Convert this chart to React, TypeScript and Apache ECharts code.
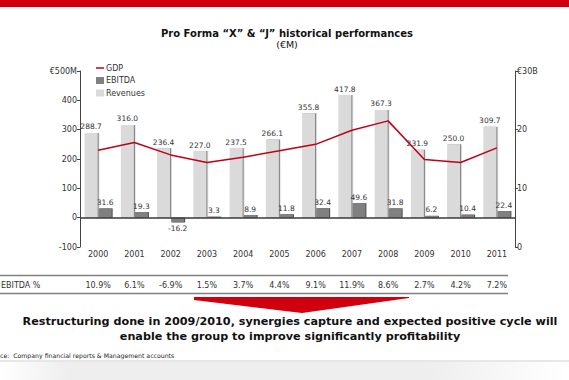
import React, { useEffect, useRef } from "react";
import * as echarts from "echarts";

const years = ["2000", "2001", "2002", "2003", "2004", "2005", "2006", "2007", "2008", "2009", "2010", "2011"];
const revenues = [288.7, 316.0, 236.4, 227.0, 237.5, 266.1, 355.8, 417.8, 367.3, 231.9, 250.0, 309.7];
const ebitda = [31.6, 19.3, -16.2, 3.3, 8.9, 11.8, 32.4, 49.6, 31.8, 6.2, 10.4, 22.4];
const gdp = [16.5, 17.8, 15.7, 14.4, 15.3, 16.4, 17.5, 19.9, 21.5, 14.9, 14.4, 16.9];
const ebitdaPct = ["10.9%", "6.1%", "-6.9%", "1.5%", "3.7%", "4.4%", "9.1%", "11.9%", "8.6%", "2.7%", "4.2%", "7.2%"];
const leftTopLabel = "€500M";
const rightTopLabel = "€30B";

const FONT = "DejaVu Sans";
const RED = "#d0000f";

export default function App() {
  const ref = useRef<HTMLDivElement>(null);
  useEffect(() => {
    if (!ref.current) return;
    const chart = echarts.init(ref.current, null, { renderer: "svg" });
    const labelStyle = { fontSize: 7.5, color: "#333", fontFamily: FONT };
    const centered = { align: "center", verticalAlign: "middle", textAlign: "center", textVerticalAlign: "middle" };
    chart.setOption({
      animation: false,
      backgroundColor: "#fff",
      textStyle: { fontFamily: FONT },
      legend: {
        orient: "vertical",
        left: 91,
        top: 59,
        itemWidth: 8,
        itemHeight: 7,
        itemGap: 4.5,
        data: [
          { name: "GDP", icon: "path://M0,0 L16,0 L16,3 L0,3 Z" },
          { name: "EBITDA", icon: "rect" },
          { name: "Revenues", icon: "rect" },
        ],
        textStyle: { fontSize: 8, color: "#333", fontFamily: FONT, padding: [0, 0, 0, -3] },
      },
      grid: [
        { left: 80, right: 54, top: 71, bottom: 133 },
        { left: 80, right: 54, top: 278, height: 1 },
      ],
      xAxis: [
        {
          type: "category",
          data: years,
          gridIndex: 0,
          axisLine: { show: false },
          axisTick: { show: false },
          axisLabel: { fontSize: 8, color: "#333", fontFamily: FONT, margin: 3 },
        },
        {
          type: "category",
          data: ebitdaPct,
          gridIndex: 1,
          axisLine: { show: false },
          axisTick: { show: false },
          axisLabel: { fontSize: 8, color: "#333", fontFamily: FONT, margin: 2 },
        },
      ],
      yAxis: [
        {
          type: "value",
          gridIndex: 0,
          min: -100,
          max: 500,
          interval: 100,
          axisLine: { show: true, lineStyle: { color: "#444", width: 1 } },
          axisTick: { show: true, length: 3, lineStyle: { color: "#444" } },
          splitLine: { show: false },
          axisLabel: {
            fontSize: 8,
            color: "#333",
            fontFamily: FONT,
            margin: 3,
            formatter: (v: number) => (v === 500 ? leftTopLabel : String(v)),
          },
        },
        {
          type: "value",
          gridIndex: 0,
          position: "right",
          min: 0,
          max: 30,
          interval: 10,
          axisLine: { show: true, lineStyle: { color: "#444", width: 1 } },
          axisTick: { show: true, length: 3, lineStyle: { color: "#444" } },
          splitLine: { show: false },
          axisLabel: {
            fontSize: 8,
            color: "#333",
            fontFamily: FONT,
            margin: 2,
            formatter: (v: number) => (v === 30 ? rightTopLabel : String(v)),
          },
        },
        { type: "value", gridIndex: 1, show: false },
      ],
      series: [
        {
          name: "Revenues",
          type: "bar",
          xAxisIndex: 0,
          yAxisIndex: 0,
          data: revenues,
          barWidth: 13,
          barGap: "8%",
          itemStyle: { color: "#dadada", shadowColor: "#7a7a7a", shadowOffsetX: 1.2, shadowBlur: 0 },
          label: { show: true, position: "top", distance: 2, ...labelStyle, formatter: (p: any) => Number(p.value).toFixed(1) },
          markLine: {
            silent: true,
            symbol: "none",
            label: { show: false },
            lineStyle: { color: "#3a3a3a", width: 1.6, type: "solid" },
            data: [{ yAxis: 0 }],
          },
        },
        {
          name: "EBITDA",
          type: "bar",
          xAxisIndex: 0,
          yAxisIndex: 0,
          data: ebitda.map((v) => (v < 0 ? { value: v, label: { position: "bottom" } } : v)),
          barWidth: 13,
          itemStyle: { color: "#808080", shadowColor: "#4a4a4a", shadowOffsetX: 1, shadowBlur: 0 },
          label: { show: true, position: "top", distance: 2, ...labelStyle, formatter: (p: any) => Number(p.value).toFixed(1) },
        },
        {
          name: "GDP",
          type: "line",
          xAxisIndex: 0,
          yAxisIndex: 1,
          data: gdp,
          symbol: "none",
          z: 5,
          lineStyle: { color: "#c00018", width: 1.5 },
          itemStyle: { color: "#c00018" },
        },
      ],
      graphic: [
        { type: "rect", shape: { x: 0, y: 0, width: 569, height: 7 }, style: { fill: RED } },
        {
          type: "text",
          x: 287,
          y: 33,
          style: {
            text: "Pro Forma “X” & “J” historical performances",
            fontSize: 10,
            fontWeight: "bold",
            fontFamily: FONT,
            fill: "#111",
            ...centered,
          },
        },
        {
          type: "text",
          x: 287,
          y: 44,
          style: { text: "(€M)", fontSize: 9.5, fontFamily: FONT, fill: "#111", ...centered },
        },
        { type: "line", shape: { x1: 0, y1: 275.5, x2: 508, y2: 275.5 }, style: { stroke: "#808080", lineWidth: 1.5 } },
        { type: "line", shape: { x1: 0, y1: 293.5, x2: 508, y2: 293.5 }, style: { stroke: "#808080", lineWidth: 1.5 } },
        {
          type: "text",
          x: 1,
          y: 285,
          style: {
            text: "EBITDA %",
            fontSize: 8,
            fontFamily: FONT,
            fill: "#333",
            align: "left",
            verticalAlign: "middle",
            textAlign: "left",
            textVerticalAlign: "middle",
          },
        },
        {
          type: "polygon",
          shape: { points: [[194, 297], [409, 297], [409, 298], [302, 313], [194, 300]] },
          style: { fill: RED },
        },
        {
          type: "text",
          x: 290,
          y: 321,
          style: {
            text: "Restructuring done in 2009/2010, synergies capture and expected positive cycle will",
            fontSize: 11.2,
            fontWeight: "bold",
            fontFamily: FONT,
            fill: "#111",
            ...centered,
          },
        },
        {
          type: "text",
          x: 290,
          y: 336,
          style: {
            text: "enable the group to improve significantly profitability",
            fontSize: 11.2,
            fontWeight: "bold",
            fontFamily: FONT,
            fill: "#111",
            ...centered,
          },
        },
        {
          type: "text",
          x: 0,
          y: 355,
          style: {
            text: "ce:  Company financial reports & Management accounts",
            fontSize: 6.2,
            fontFamily: FONT,
            fill: "#222",
            align: "left",
            verticalAlign: "middle",
            textAlign: "left",
            textVerticalAlign: "middle",
          },
        },
        { type: "line", shape: { x1: 0, y1: 361, x2: 569, y2: 361 }, style: { stroke: "#cfcfcf", lineWidth: 1 } },
        {
          type: "rect",
          shape: { x: 0, y: 362, width: 569, height: 18 },
          style: {
            fill: new echarts.graphic.LinearGradient(0, 0, 1, 0, [
              { offset: 0, color: "#ffffff" },
              { offset: 0.12, color: "#eeeeee" },
              { offset: 0.75, color: "#eeeeee" },
              { offset: 1, color: "#ffffff" },
            ]),
          },
        },
      ],
    });
    return () => chart.dispose();
  }, []);
  return (
    <div
      ref={ref}
      style={{ position: "fixed", left: 0, top: 0, width: 569, height: 380, background: "#fff" }}
    />
  );
}
